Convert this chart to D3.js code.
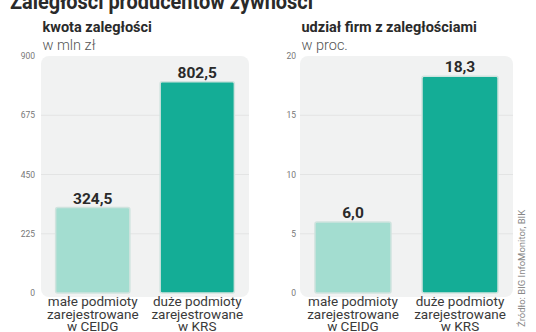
<!DOCTYPE html>
<html><head><meta charset="utf-8">
<script src="https://cdn.jsdelivr.net/npm/d3@7"></script>
<style>
html,body{margin:0;padding:0;background:#fff;}
svg{display:block;font-family:Roboto,"Noto Sans",sans-serif;}
</style></head>
<body><svg id="c" width="536" height="332"></svg>
<script>
const title = "Zaległości producentów żywności";
const categories = [["małe podmioty","zarejestrowane","w CEIDG"],["duże podmioty","zarejestrowane","w KRS"]];
const amountValues = [324.5, 802.5];
const shareValues = [6.0, 18.3];
const amountTicks = [0, 225, 450, 675, 900];
const shareTicks = [0, 5, 10, 15, 20];
const panelTitles = ["kwota zaległości", "udział firm z zaległościami"];
const panelUnits = ["w mln zł", "w proc."];
const source = "Źródło: BIG InfoMonitor, BIK";
const barColors = ["#a3ddd0", "#14ad96"];

const svg = d3.select("#c");
svg.append("text").attr("x", 10).attr("y", 9).attr("font-size", 22).attr("font-weight", 700)
  .attr("fill", "#2a2a2a").attr("textLength", 303).attr("lengthAdjust", "spacingAndGlyphs").text(title);

function panel(cfg) {
  const g = svg.append("g");
  const y = d3.scaleLinear().domain([0, cfg.ticks[cfg.ticks.length-1]]).range([293, 56]);
  const x = d3.scaleBand().domain([0,1]).range([cfg.bgX, cfg.bgX + cfg.bgW]).paddingInner(0.29).paddingOuter(0.14);
  // background
  g.append("rect").attr("x", cfg.bgX).attr("y", 56).attr("width", cfg.bgW).attr("height", 241)
    .attr("rx", 8).attr("fill", "#f1f2f2");
  // grid
  g.selectAll("line.grid").data(cfg.ticks.slice(1, -1)).join("line")
    .attr("x1", cfg.bgX).attr("x2", cfg.bgX + cfg.bgW)
    .attr("y1", d => y(d)).attr("y2", d => y(d))
    .attr("stroke", "#e3e4e4").attr("stroke-width", 1);
  // axis
  const ax = g.append("g").attr("transform", `translate(${cfg.axX},0)`)
    .call(d3.axisLeft(y).tickValues(cfg.ticks).tickSize(0).tickPadding(0));
  ax.select(".domain").remove();
  ax.selectAll("text").attr("font-size", 8.5).attr("fill", "#777").attr("font-family", "Roboto");
  // bars
  g.selectAll("rect.bar").data(cfg.values).join("rect")
    .attr("x", (d,i) => x(i)).attr("width", x.bandwidth())
    .attr("y", d => y(d)).attr("height", d => y(0) - y(d))
    .attr("rx", 2).attr("fill", (d,i) => barColors[i])
    .attr("stroke", "#cfe3de").attr("stroke-width", 1.5);
  // value labels
  g.selectAll("text.val").data(cfg.values).join("text")
    .attr("x", (d,i) => x(i) + x.bandwidth()/2).attr("y", d => y(d) - 4)
    .attr("text-anchor", "middle").attr("font-size", 15.5).attr("font-weight", 700)
    .attr("fill", "#2a2a2a").text(d => d.toFixed(1).replace(".", ","));
  // category labels
  categories.forEach((lines, i) => {
    const t = g.append("text").attr("text-anchor", "middle").attr("font-size", 13.5)
      .attr("fill", "#3a3a3a");
    lines.forEach((l, k) => t.append("tspan").attr("x", x(i) + x.bandwidth()/2)
      .attr("y", 306 + k*12.5).text(l));
  });
  // titles
  svg.append("text").attr("x", cfg.bgX + 1.5).attr("y", 32).attr("font-size", 14.5).attr("font-weight", 700)
    .attr("fill", "#2a2a2a").text(cfg.title);
  svg.append("text").attr("x", cfg.bgX + 1.5).attr("y", 50).attr("font-size", 14.5).attr("font-weight", 300)
    .attr("fill", "#555").text(cfg.unit);
}

panel({bgX: 41, bgW: 208, axX: 35, ticks: amountTicks, values: amountValues, title: panelTitles[0], unit: panelUnits[0]});
panel({bgX: 300, bgW: 213, axX: 296, ticks: shareTicks, values: shareValues, title: panelTitles[1], unit: panelUnits[1]});

svg.append("text").attr("transform", "translate(525,327) rotate(-90)")
  .attr("font-size", 9.5).attr("fill", "#888").text(source);
</script></body></html>
